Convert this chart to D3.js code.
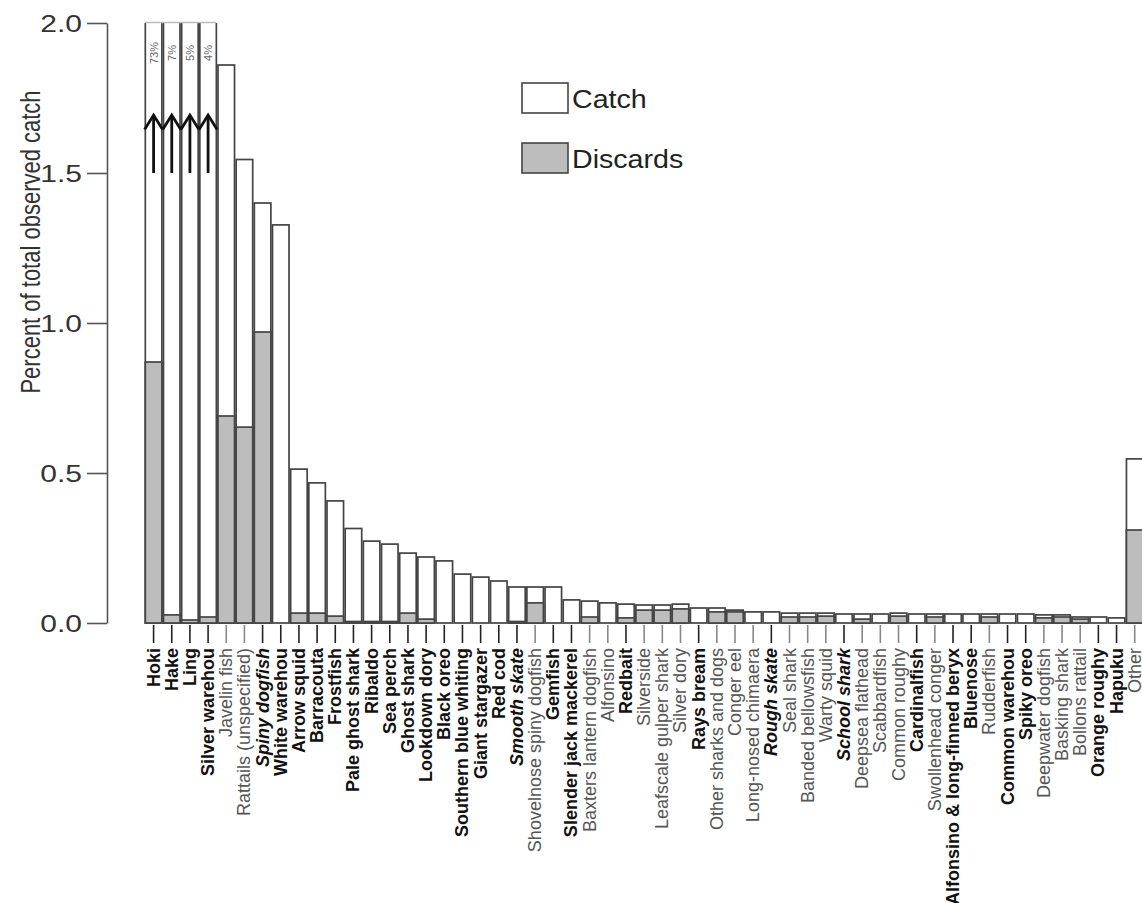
<!DOCTYPE html>
<html>
<head>
<meta charset="utf-8">
<script src="https://cdn.jsdelivr.net/npm/d3@7"></script>
<style>
  html, body { margin: 0; padding: 0; background: #fff; }
  svg { display: block; font-family: "Liberation Sans", Arial, Helvetica, sans-serif; }
</style>
</head>
<body>
<svg id="chart" width="1142" height="903"></svg>
<script>
const categories = [
  "Hoki","Hake","Ling","Silver warehou","Javelin fish","Rattails (unspecified)","Spiny dogfish",
  "White warehou","Arrow squid","Barracouta","Frostfish","Pale ghost shark","Ribaldo","Sea perch",
  "Ghost shark","Lookdown dory","Black oreo","Southern blue whiting","Giant stargazer","Red cod",
  "Smooth skate","Shovelnose spiny dogfish","Gemfish","Slender jack mackerel","Baxters lantern dogfish",
  "Alfonsino","Redbait","Silverside","Leafscale gulper shark","Silver dory","Rays bream",
  "Other sharks and dogs","Conger eel","Long-nosed chimaera","Rough skate","Seal shark",
  "Banded bellowsfish","Warty squid","School shark","Deepsea flathead","Scabbardfish","Common roughy",
  "Cardinalfish","Swollenhead conger","Alfonsino & long-finned beryx","Bluenose","Rudderfish",
  "Common warehou","Spiky oreo","Deepwater dogfish","Basking shark","Bollons rattail","Orange roughy",
  "Hapuku","Other"
];
// Percent of total observed catch (catch bar = total), first four exceed axis (73%, 7%, 5%, 4%)
const catchValues = [
  73, 7, 5, 4, 1.86, 1.545, 1.40,
  1.327, 0.513, 0.467, 0.407, 0.315, 0.273, 0.263,
  0.233, 0.22, 0.207, 0.163, 0.153, 0.14,
  0.12, 0.12, 0.12, 0.077, 0.073,
  0.067, 0.063, 0.06, 0.06, 0.063, 0.05,
  0.05, 0.043, 0.037, 0.037, 0.033,
  0.033, 0.033, 0.03, 0.03, 0.03, 0.033,
  0.03, 0.03, 0.03, 0.03, 0.03,
  0.03, 0.03, 0.027, 0.027, 0.02, 0.02,
  0.017, 0.547
];
const discardValues = [
  0.87, 0.027, 0.01, 0.02, 0.69, 0.653, 0.97,
  0, 0.033, 0.033, 0.023, 0.005, 0.005, 0.005,
  0.033, 0.013, 0, 0, 0, 0,
  0.005, 0.067, 0, 0, 0.02,
  0, 0.017, 0.043, 0.043, 0.047, 0,
  0.037, 0.037, 0, 0, 0.02,
  0.02, 0.023, 0, 0.013, 0, 0.023,
  0, 0.02, 0, 0, 0.02,
  0, 0, 0.017, 0.02, 0.013, 0,
  0, 0.31
];
const overflowLabels = ["73%", "7%", "5%", "4%"];
const boldLabels = new Set([
  "Hoki","Hake","Ling","Silver warehou","Spiny dogfish","White warehou","Arrow squid","Barracouta",
  "Frostfish","Pale ghost shark","Ribaldo","Sea perch","Ghost shark","Lookdown dory","Black oreo",
  "Southern blue whiting","Giant stargazer","Red cod","Smooth skate","Gemfish","Slender jack mackerel",
  "Redbait","Rays bream","Rough skate","School shark","Cardinalfish","Alfonsino & long-finned beryx",
  "Bluenose","Common warehou","Spiky oreo","Orange roughy","Hapuku"
]);
const italicLabels = new Set(["Spiny dogfish","Smooth skate","Rough skate","School shark"]);
const yTicks = [0, 0.5, 1.0, 1.5, 2.0];
const legendItems = ["Catch", "Discards"];

const svg = d3.select("#chart");
const yTop = 23, yBottom = 623;
const x = d3.scaleBand().domain(categories).range([143.5, 1144.8]).paddingInner(0.09).paddingOuter(0.1);
const y = d3.scaleLinear().domain([0, 2]).range([yBottom, yTop]);

svg.append("defs").append("clipPath").attr("id", "plotclip")
  .append("rect").attr("x", 0).attr("y", yTop).attr("width", 1142).attr("height", yBottom - yTop + 2);

const data = categories.map((c, i) => ({ c, i, total: catchValues[i], disc: discardValues[i] }));

const bars = svg.append("g").attr("clip-path", "url(#plotclip)");
bars.selectAll("rect.catch").data(data).join("rect")
  .attr("class", "catch")
  .attr("x", d => x(d.c)).attr("width", x.bandwidth())
  .attr("y", d => y(Math.min(d.total, 2.2)))
  .attr("height", d => y(0) - y(Math.min(d.total, 2.2)))
  .attr("fill", "#fff").attr("stroke", "#444").attr("stroke-width", 1.7);
bars.selectAll("rect.disc").data(data.filter(d => d.disc > 0)).join("rect")
  .attr("class", "disc")
  .attr("x", d => x(d.c)).attr("width", x.bandwidth())
  .attr("y", d => y(d.disc))
  .attr("height", d => y(0) - y(d.disc))
  .attr("fill", "#bdbdbd").attr("stroke", "#444").attr("stroke-width", 1.7);

const ov = data.filter(d => d.total > 2);
svg.append("line")
  .attr("x1", x(ov[0].c)).attr("x2", x(ov[ov.length - 1].c) + x.bandwidth())
  .attr("y1", yTop - 0.5).attr("y2", yTop - 0.5)
  .attr("stroke", "#bbb").attr("stroke-width", 1.5);
svg.selectAll("text.ovl").data(ov).join("text")
  .attr("class", "ovl")
  .attr("transform", d => `translate(${x(d.c) + x.bandwidth() / 2 + 4},${y(1.9)}) rotate(-90)`)
  .attr("text-anchor", "middle")
  .attr("font-size", 11).attr("fill", "#666")
  .text((d, k) => overflowLabels[k]);

const arrows = svg.append("g").attr("stroke", "#111").attr("stroke-width", 2.8).attr("fill", "none");
ov.forEach(d => {
  const cx = x(d.c) + x.bandwidth() / 2;
  arrows.append("line").attr("x1", cx).attr("x2", cx).attr("y1", y(1.5)).attr("y2", y(1.69));
  arrows.append("path").attr("d", `M${cx - 9},${y(1.645)} L${cx},${y(1.693)} L${cx + 9},${y(1.645)}`);
});

// y axis
const yAxis = svg.append("g").attr("transform", "translate(107,0)")
  .call(d3.axisLeft(y).tickValues(yTicks).tickFormat(d3.format(".1f")).tickSize(20).tickSizeOuter(0));
yAxis.select(".domain").attr("stroke", "#555").attr("stroke-width", 1.6);
yAxis.selectAll(".tick line").attr("stroke", "#555").attr("stroke-width", 1.6);
yAxis.selectAll(".tick text")
  .attr("x", 0).attr("dy", "0.36em")
  .attr("transform", "translate(-25,0) scale(1.25,1)")
  .attr("font-size", 24).attr("fill", "#333")
  .attr("font-family", "Liberation Sans, Arial, sans-serif");

svg.append("text")
  .attr("transform", "translate(40,242) rotate(-90) scale(1,1.25)")
  .attr("text-anchor", "middle")
  .attr("font-size", 22).attr("fill", "#333")
  .text("Percent of total observed catch");

// x axis ticks and labels
const xg = svg.append("g");
xg.selectAll("line").data(categories).join("line")
  .attr("x1", d => x(d) + x.bandwidth() / 2).attr("x2", d => x(d) + x.bandwidth() / 2)
  .attr("y1", yBottom + 2).attr("y2", yBottom + 20)
  .attr("stroke", d => boldLabels.has(d) ? "#222" : "#888").attr("stroke-width", 1.6);
xg.selectAll("text").data(categories).join("text")
  .attr("transform", d => `translate(${x(d) + x.bandwidth() / 2 + 6},${yBottom + 25}) rotate(-90)`)
  .attr("text-anchor", "end")
  .attr("font-size", 18)
  .attr("font-weight", d => boldLabels.has(d) ? "bold" : "normal")
  .attr("font-style", d => italicLabels.has(d) ? "italic" : "normal")
  .attr("fill", d => boldLabels.has(d) ? "#111" : "#555")
  .text(d => d);

// legend
const legendFill = ["#fff", "#bdbdbd"];
const lg = svg.append("g").attr("transform", "translate(522,83)");
legendItems.forEach((t, k) => {
  lg.append("rect").attr("x", 0).attr("y", k * 60).attr("width", 46).attr("height", 30)
    .attr("fill", legendFill[k]).attr("stroke", "#444").attr("stroke-width", 1.6);
  lg.append("text").attr("transform", `translate(50,${k * 60 + 25}) scale(1.1,1)`)
    .attr("font-size", 26).attr("fill", "#222").text(t);
});
</script>
</body>
</html>
